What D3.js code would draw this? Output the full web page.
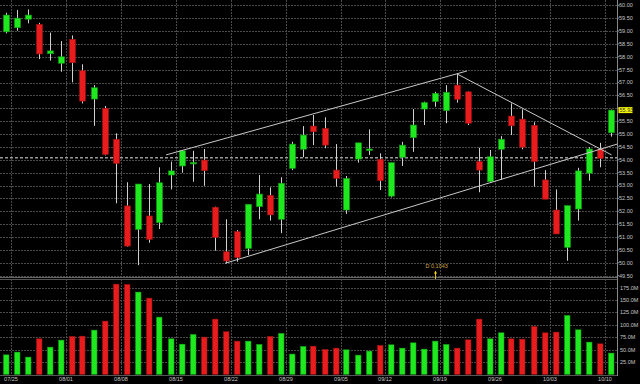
<!DOCTYPE html>
<html><head><meta charset="utf-8">
<script src="https://cdn.jsdelivr.net/npm/d3@7"></script>
<style>html,body{margin:0;padding:0;background:#000;}svg{display:block;}</style>
</head><body>
<svg id="c" width="640" height="384"></svg>
<script>
const open  = [58.97,59.13,59.46,59.26,58.12,57.75,58.68,57.46,56.36,56.00,54.80,52.21,51.30,51.82,51.56,53.41,53.76,53.84,53.99,52.16,50.43,51.21,50.56,52.18,52.62,51.69,53.67,54.41,55.31,55.22,53.60,52.05,54.03,54.37,54.02,52.59,54.10,54.86,55.97,56.26,55.91,56.90,56.64,53.93,53.15,54.41,55.70,55.58,55.34,53.22,52.05,50.60,52.09,53.48,54.41,55.05];
const high  = [59.71,59.82,59.84,59.32,58.94,58.61,58.83,57.71,56.90,56.09,55.03,53.13,53.06,53.06,53.71,53.93,54.38,54.35,54.42,52.18,51.69,51.27,52.27,53.41,52.93,53.32,54.70,55.31,55.74,55.65,54.61,53.37,54.66,55.18,54.25,53.89,54.70,55.97,56.26,56.64,56.90,57.33,56.66,54.47,54.38,54.92,56.19,55.96,55.46,53.60,52.85,52.22,53.69,54.49,54.66,55.95];
const low   = [58.91,59.01,59.30,57.91,57.85,57.42,57.01,56.19,55.32,54.17,52.31,50.63,49.91,50.78,51.31,52.85,53.50,53.15,52.99,50.47,49.98,50.04,50.30,51.69,51.64,51.15,53.60,54.10,54.57,54.45,52.96,51.90,53.89,54.19,52.83,52.54,53.76,54.31,55.35,56.06,55.42,56.22,55.35,52.74,53.13,53.22,54.96,54.41,52.96,52.47,51.12,50.08,51.64,53.19,53.71,54.90];
const close = [59.62,59.50,59.62,58.11,58.23,58.00,57.77,56.28,56.80,54.21,53.86,50.65,53.06,50.91,53.11,53.57,54.35,53.90,53.58,50.99,50.07,50.20,52.27,52.67,51.86,53.09,54.61,54.96,55.09,54.57,53.28,53.28,54.66,54.42,53.19,53.89,54.57,55.35,56.22,56.58,56.62,56.35,55.42,53.60,54.12,54.80,55.32,54.49,53.93,52.47,51.12,52.22,53.57,54.42,54.06,55.93];
const volume = [39.5,45,34.9,71.8,55,69.2,76.6,77.2,89.3,107.5,182,181.5,166,153.8,115.5,71.8,61,80.6,75.2,111.5,86,67.1,67.1,60.5,76.6,82.7,41,56.4,57,50.4,53,49.6,38.9,47,58.5,59.7,53,63.7,51,67.1,60.5,53,69.8,111.5,71.8,83.9,71.8,71.2,96.8,83.9,85.3,119,90,65.1,61.7,43];
const weekStartIdx = [1,6,11,16,21,26,31,35,40,45,50,55];
const weekLabels = ["07/25","08/01","08/08","08/15","08/22","08/29","09/05","09/12","09/19","09/26","10/03","10/10"];
const priceTicks = [49.5,50,50.5,51,51.5,52,52.5,53,53.5,54,54.5,55,55.5,56,56.5,57,57.5,58,58.5,59,59.5,60];
const volTicks = [25,50,75,100,125,150,175];
// trend lines as [index, price] pairs
const trendUpper = [[14.6,54.19],[41.95,57.45]];
const trendLower = [[19.95,49.98],[55.6,54.61]];
const trendDown  = [[41.07,57.33],[55.1,54.19]];
const hLinePrice = 54.08;
const lastPrice = 55.93;
const markerIdx = 39;
const markerText = "D 0.1043";

const svg = d3.select("#c");
const W = 640, H = 384;
const plotRight = 617;
const x = d3.scaleLinear().domain([0,55]).range([5.5,610.5]);
const y = d3.scaleLinear().domain([49.5,60]).range([275.7,5.3]);
const yv = d3.scaleLinear().domain([0,175]).range([374.4,287.6]);
const font = "'Liberation Sans', Arial, sans-serif";
const gridCol = "#4a4a4a";
const txtCol = "#c8c8c8";

svg.append("rect").attr("width",W).attr("height",H).attr("fill","#000");

// price grid
const g = svg.append("g");
g.selectAll("line.hp").data(priceTicks).join("line")
  .attr("x1",0).attr("x2",plotRight).attr("y1",d=>Math.round(y(d))+0.5).attr("y2",d=>Math.round(y(d))+0.5)
  .attr("stroke",gridCol).attr("stroke-dasharray","2,1");
g.selectAll("line.hv").data(volTicks).join("line")
  .attr("x1",0).attr("x2",plotRight).attr("y1",d=>Math.round(yv(d))+0.5).attr("y2",d=>Math.round(yv(d))+0.5)
  .attr("stroke",gridCol).attr("stroke-dasharray","2,1");
g.selectAll("line.v").data(weekStartIdx).join("line")
  .attr("x1",d=>Math.round(x(d-0.5))+0.5).attr("x2",d=>Math.round(x(d-0.5))+0.5)
  .attr("y1",0).attr("y2",376)
  .attr("stroke",gridCol).attr("stroke-dasharray","2,1");

// panel borders
svg.append("line").attr("x1",0).attr("x2",plotRight).attr("y1",277.5).attr("y2",277.5).attr("stroke","#666");
svg.append("line").attr("x1",0).attr("x2",plotRight).attr("y1",279.5).attr("y2",279.5).attr("stroke","#555");
svg.append("line").attr("x1",0).attr("x2",plotRight).attr("y1",375.5).attr("y2",375.5).attr("stroke","#555");
svg.append("line").attr("x1",plotRight+0.5).attr("x2",plotRight+0.5).attr("y1",0).attr("y2",376).attr("stroke","#888");

// horizontal dashed line
svg.append("line").attr("x1",0).attr("x2",plotRight).attr("y1",y(hLinePrice)).attr("y2",y(hLinePrice))
  .attr("stroke","#9a9a9a").attr("stroke-width",1.4).attr("stroke-dasharray","3,2");

// candles
const idx = d3.range(open.length);
const up = i => close[i] >= open[i];
const green = "#1ee81e", red = "#e81c1c";
svg.append("g").selectAll("line").data(idx).join("line")
  .attr("x1",i=>Math.round(x(i))+0.5).attr("x2",i=>Math.round(x(i))+0.5)
  .attr("y1",i=>y(high[i])).attr("y2",i=>y(low[i]))
  .attr("stroke","#d0d0d0").attr("stroke-width",1);
svg.append("g").selectAll("rect").data(idx).join("rect")
  .attr("x",i=>Math.round(x(i))-2.5).attr("width",6)
  .attr("y",i=>y(Math.max(open[i],close[i])))
  .attr("height",i=>Math.max(1.5, y(Math.min(open[i],close[i]))-y(Math.max(open[i],close[i]))))
  .attr("fill",i=>up(i)?green:red)
  .attr("stroke",i=>up(i)?"#129a12":"#9a1010").attr("stroke-width",0.6);

// volume bars
svg.append("g").selectAll("rect").data(idx).join("rect")
  .attr("x",i=>Math.round(x(i))-2.5).attr("width",5.5)
  .attr("y",i=>yv(volume[i])).attr("height",i=>yv(0)-yv(volume[i]))
  .attr("fill",i=>up(i)?green:red)
  .attr("stroke",i=>up(i)?"#129a12":"#9a1010").attr("stroke-width",0.5);

// trend lines
const line = d3.line().x(d=>x(d[0])).y(d=>y(d[1]));
[trendUpper,trendLower,trendDown].forEach(t=>{
  svg.append("path").attr("d",line(t)).attr("fill","none").attr("stroke","#c8c8c8").attr("stroke-width",1);
});

// right axis labels (the tick label hidden under the last-price tag is skipped)
const ly = y(lastPrice);
const shownTicks = priceTicks.filter(d=>Math.abs(y(d)-ly) > 5);
const ax = svg.append("g").attr("font-family",font).attr("font-size",5.5).attr("fill",txtCol);
ax.selectAll("text.p").data(shownTicks).join("text")
  .attr("x",619).attr("y",d=>y(d)).attr("dy","0.35em").text(d=>d.toFixed(2));
ax.selectAll("text.v").data(volTicks).join("text")
  .attr("x",620).attr("y",d=>yv(d)).attr("dy","0.35em").text(d=>d.toFixed(1)+"M");
svg.append("g").selectAll("line").data(priceTicks).join("line")
  .attr("x1",plotRight).attr("x2",plotRight+2).attr("y1",d=>y(d)).attr("y2",d=>y(d)).attr("stroke","#888");

// last price label
svg.append("rect").attr("x",618.5).attr("y",ly-3).attr("width",14).attr("height",6).attr("fill","#f5f500");
svg.append("text").attr("x",619.5).attr("y",ly).attr("dy","0.35em").attr("font-family",font).attr("font-size",5.5)
  .attr("fill","#333").text(lastPrice.toFixed(2));

// x labels
svg.append("g").attr("font-family",font).attr("font-size",5.5).attr("fill",txtCol)
  .selectAll("text").data(weekStartIdx).join("text")
  .attr("x",d=>x(d-0.5)).attr("y",379.5).attr("dy","0.35em").attr("text-anchor","middle")
  .text((d,i)=>weekLabels[i]);

// marker
const mx = Math.round(x(markerIdx))+0.5;
svg.append("line").attr("x1",mx).attr("x2",mx).attr("y1",271).attr("y2",279).attr("stroke","#e0c000");
svg.append("path").attr("d",`M${mx},271.5 l1.5,1.5 l-1.5,1.5 l-1.5,-1.5z`).attr("fill","#f0d000");
svg.append("text").attr("x",mx-10).attr("y",266.5).attr("dy","0.35em").attr("font-family",font).attr("font-size",5.5)
  .attr("fill","#c8a040").text(markerText);
</script>
</body></html>
